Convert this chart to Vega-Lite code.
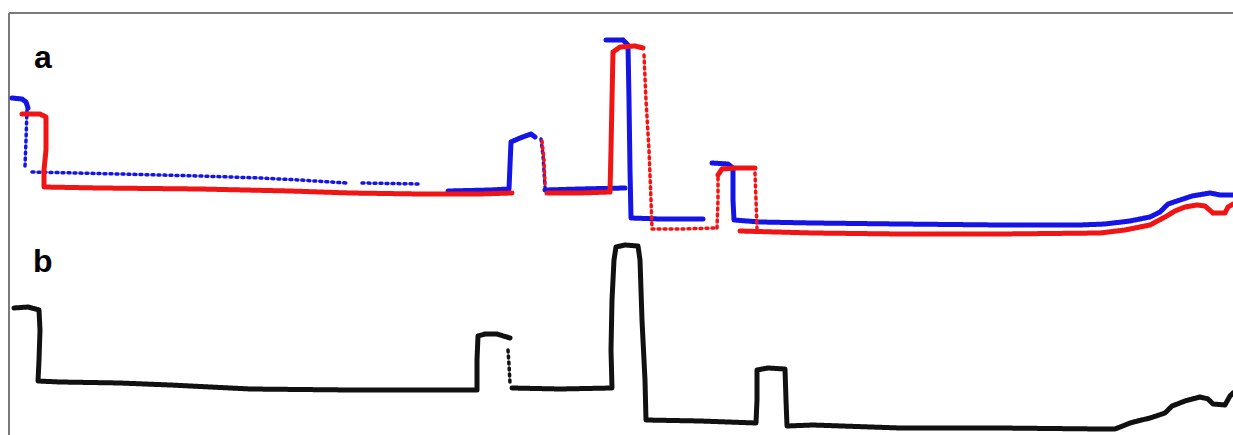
{
  "$schema": "https://vega.github.io/schema/vega-lite/v6.json",
  "width": 1233,
  "height": 435,
  "padding": 0,
  "autosize": {"type": "none"},
  "background": "white",
  "config": {"view": {"stroke": null}},
  "datasets": {
    "traces": [
      {"s":"blue","g":"B1","d":"solid","i":1,"x":12,"y":98},
      {"s":"blue","g":"B1","d":"solid","i":2,"x":22,"y":99},
      {"s":"blue","g":"B1","d":"solid","i":3,"x":26,"y":102},
      {"s":"blue","g":"B1","d":"solid","i":4,"x":28,"y":108},
      {"s":"blue","g":"B2","d":"dot","i":1,"x":27,"y":110},
      {"s":"blue","g":"B2","d":"dot","i":2,"x":26,"y":140},
      {"s":"blue","g":"B2","d":"dot","i":3,"x":25,"y":166},
      {"s":"blue","g":"B3","d":"dot","i":1,"x":32,"y":172},
      {"s":"blue","g":"B3","d":"dot","i":2,"x":120,"y":174},
      {"s":"blue","g":"B3","d":"dot","i":3,"x":200,"y":176},
      {"s":"blue","g":"B3","d":"dot","i":4,"x":260,"y":178},
      {"s":"blue","g":"B3","d":"dot","i":5,"x":300,"y":180},
      {"s":"blue","g":"B3","d":"dot","i":6,"x":347,"y":183},
      {"s":"blue","g":"B4","d":"dot","i":1,"x":362,"y":183},
      {"s":"blue","g":"B4","d":"dot","i":2,"x":420,"y":184},
      {"s":"blue","g":"B5","d":"solid","i":1,"x":448,"y":191},
      {"s":"blue","g":"B5","d":"solid","i":2,"x":490,"y":190},
      {"s":"blue","g":"B5","d":"solid","i":3,"x":509,"y":189},
      {"s":"blue","g":"B5","d":"solid","i":4,"x":510,"y":165},
      {"s":"blue","g":"B5","d":"solid","i":5,"x":511,"y":142},
      {"s":"blue","g":"B5","d":"solid","i":6,"x":520,"y":138},
      {"s":"blue","g":"B5","d":"solid","i":7,"x":531,"y":134},
      {"s":"blue","g":"B5","d":"solid","i":8,"x":535,"y":137},
      {"s":"blue","g":"B6","d":"dot","i":1,"x":541,"y":139},
      {"s":"blue","g":"B6","d":"dot","i":2,"x":543,"y":155},
      {"s":"blue","g":"B6","d":"dot","i":3,"x":545,"y":187},
      {"s":"blue","g":"B7","d":"solid","i":1,"x":545,"y":190},
      {"s":"blue","g":"B7","d":"solid","i":2,"x":580,"y":189},
      {"s":"blue","g":"B7","d":"solid","i":3,"x":625,"y":188},
      {"s":"blue","g":"B8","d":"solid","i":1,"x":606,"y":40},
      {"s":"blue","g":"B8","d":"solid","i":2,"x":623,"y":40},
      {"s":"blue","g":"B8","d":"solid","i":3,"x":628,"y":45},
      {"s":"blue","g":"B8","d":"solid","i":4,"x":629,"y":100},
      {"s":"blue","g":"B8","d":"solid","i":5,"x":630,"y":170},
      {"s":"blue","g":"B8","d":"solid","i":6,"x":631,"y":218},
      {"s":"blue","g":"B8","d":"solid","i":7,"x":660,"y":219},
      {"s":"blue","g":"B8","d":"solid","i":8,"x":703,"y":219},
      {"s":"blue","g":"B9","d":"solid","i":1,"x":712,"y":163},
      {"s":"blue","g":"B9","d":"solid","i":2,"x":728,"y":164},
      {"s":"blue","g":"B9","d":"solid","i":3,"x":733,"y":168},
      {"s":"blue","g":"B9","d":"solid","i":4,"x":733,"y":200},
      {"s":"blue","g":"B9","d":"solid","i":5,"x":734,"y":220},
      {"s":"blue","g":"B9","d":"solid","i":6,"x":760,"y":222},
      {"s":"blue","g":"B9","d":"solid","i":7,"x":813,"y":223},
      {"s":"blue","g":"B9","d":"solid","i":8,"x":900,"y":224},
      {"s":"blue","g":"B9","d":"solid","i":9,"x":1000,"y":225},
      {"s":"blue","g":"B9","d":"solid","i":10,"x":1080,"y":225},
      {"s":"blue","g":"B9","d":"solid","i":11,"x":1105,"y":224},
      {"s":"blue","g":"B9","d":"solid","i":12,"x":1130,"y":221},
      {"s":"blue","g":"B9","d":"solid","i":13,"x":1150,"y":217},
      {"s":"blue","g":"B9","d":"solid","i":14,"x":1160,"y":212},
      {"s":"blue","g":"B9","d":"solid","i":15,"x":1168,"y":204},
      {"s":"blue","g":"B9","d":"solid","i":16,"x":1180,"y":200},
      {"s":"blue","g":"B9","d":"solid","i":17,"x":1192,"y":196},
      {"s":"blue","g":"B9","d":"solid","i":18,"x":1210,"y":193},
      {"s":"blue","g":"B9","d":"solid","i":19,"x":1220,"y":195},
      {"s":"blue","g":"B9","d":"solid","i":20,"x":1233,"y":195},
      {"s":"red","g":"R1","d":"solid","i":1,"x":22,"y":114},
      {"s":"red","g":"R1","d":"solid","i":2,"x":40,"y":114},
      {"s":"red","g":"R1","d":"solid","i":3,"x":46,"y":117},
      {"s":"red","g":"R1","d":"solid","i":4,"x":46,"y":150},
      {"s":"red","g":"R1","d":"solid","i":5,"x":44,"y":170},
      {"s":"red","g":"R1","d":"solid","i":6,"x":44,"y":187},
      {"s":"red","g":"R1","d":"solid","i":7,"x":100,"y":188},
      {"s":"red","g":"R1","d":"solid","i":8,"x":200,"y":189},
      {"s":"red","g":"R1","d":"solid","i":9,"x":290,"y":191},
      {"s":"red","g":"R1","d":"solid","i":10,"x":350,"y":193},
      {"s":"red","g":"R1","d":"solid","i":11,"x":420,"y":194},
      {"s":"red","g":"R1","d":"solid","i":12,"x":480,"y":194},
      {"s":"red","g":"R1","d":"solid","i":13,"x":512,"y":193},
      {"s":"red","g":"R2","d":"dot","i":1,"x":542,"y":141},
      {"s":"red","g":"R2","d":"dot","i":2,"x":544,"y":160},
      {"s":"red","g":"R2","d":"dot","i":3,"x":545,"y":184},
      {"s":"red","g":"R3","d":"solid","i":1,"x":547,"y":193},
      {"s":"red","g":"R3","d":"solid","i":2,"x":580,"y":193},
      {"s":"red","g":"R3","d":"solid","i":3,"x":610,"y":192},
      {"s":"red","g":"R3","d":"solid","i":4,"x":611,"y":150},
      {"s":"red","g":"R3","d":"solid","i":5,"x":612,"y":100},
      {"s":"red","g":"R3","d":"solid","i":6,"x":613,"y":52},
      {"s":"red","g":"R3","d":"solid","i":7,"x":620,"y":47},
      {"s":"red","g":"R3","d":"solid","i":8,"x":635,"y":46},
      {"s":"red","g":"R3","d":"solid","i":9,"x":643,"y":48},
      {"s":"red","g":"R4","d":"dot","i":1,"x":644,"y":55},
      {"s":"red","g":"R4","d":"dot","i":2,"x":646,"y":100},
      {"s":"red","g":"R4","d":"dot","i":3,"x":649,"y":150},
      {"s":"red","g":"R4","d":"dot","i":4,"x":651,"y":200},
      {"s":"red","g":"R4","d":"dot","i":5,"x":652,"y":228},
      {"s":"red","g":"R5","d":"dot","i":1,"x":652,"y":229},
      {"s":"red","g":"R5","d":"dot","i":2,"x":680,"y":229},
      {"s":"red","g":"R5","d":"dot","i":3,"x":716,"y":228},
      {"s":"red","g":"R6","d":"dot","i":1,"x":717,"y":228},
      {"s":"red","g":"R6","d":"dot","i":2,"x":718,"y":200},
      {"s":"red","g":"R6","d":"dot","i":3,"x":718,"y":178},
      {"s":"red","g":"R7","d":"solid","i":1,"x":718,"y":175},
      {"s":"red","g":"R7","d":"solid","i":2,"x":722,"y":169},
      {"s":"red","g":"R7","d":"solid","i":3,"x":735,"y":168},
      {"s":"red","g":"R7","d":"solid","i":4,"x":755,"y":168},
      {"s":"red","g":"R8","d":"dot","i":1,"x":755,"y":173},
      {"s":"red","g":"R8","d":"dot","i":2,"x":756,"y":200},
      {"s":"red","g":"R8","d":"dot","i":3,"x":757,"y":228},
      {"s":"red","g":"R9","d":"solid","i":1,"x":740,"y":231},
      {"s":"red","g":"R9","d":"solid","i":2,"x":813,"y":233},
      {"s":"red","g":"R9","d":"solid","i":3,"x":900,"y":234},
      {"s":"red","g":"R9","d":"solid","i":4,"x":1000,"y":234},
      {"s":"red","g":"R9","d":"solid","i":5,"x":1100,"y":233},
      {"s":"red","g":"R9","d":"solid","i":6,"x":1125,"y":230},
      {"s":"red","g":"R9","d":"solid","i":7,"x":1150,"y":225},
      {"s":"red","g":"R9","d":"solid","i":8,"x":1165,"y":217},
      {"s":"red","g":"R9","d":"solid","i":9,"x":1175,"y":211},
      {"s":"red","g":"R9","d":"solid","i":10,"x":1185,"y":207},
      {"s":"red","g":"R9","d":"solid","i":11,"x":1197,"y":205},
      {"s":"red","g":"R9","d":"solid","i":12,"x":1205,"y":206},
      {"s":"red","g":"R9","d":"solid","i":13,"x":1213,"y":213},
      {"s":"red","g":"R9","d":"solid","i":14,"x":1225,"y":213},
      {"s":"red","g":"R9","d":"solid","i":15,"x":1228,"y":207},
      {"s":"red","g":"R9","d":"solid","i":16,"x":1233,"y":204},
      {"s":"black","g":"K1","d":"solid","i":1,"x":14,"y":308},
      {"s":"black","g":"K1","d":"solid","i":2,"x":28,"y":307},
      {"s":"black","g":"K1","d":"solid","i":3,"x":39,"y":310},
      {"s":"black","g":"K1","d":"solid","i":4,"x":40,"y":330},
      {"s":"black","g":"K1","d":"solid","i":5,"x":39,"y":360},
      {"s":"black","g":"K1","d":"solid","i":6,"x":38,"y":381},
      {"s":"black","g":"K1","d":"solid","i":7,"x":60,"y":382},
      {"s":"black","g":"K1","d":"solid","i":8,"x":120,"y":383},
      {"s":"black","g":"K1","d":"solid","i":9,"x":170,"y":385},
      {"s":"black","g":"K1","d":"solid","i":10,"x":250,"y":389},
      {"s":"black","g":"K1","d":"solid","i":11,"x":350,"y":390},
      {"s":"black","g":"K1","d":"solid","i":12,"x":420,"y":390},
      {"s":"black","g":"K1","d":"solid","i":13,"x":477,"y":390},
      {"s":"black","g":"K1","d":"solid","i":14,"x":477,"y":360},
      {"s":"black","g":"K1","d":"solid","i":15,"x":478,"y":336},
      {"s":"black","g":"K1","d":"solid","i":16,"x":485,"y":334},
      {"s":"black","g":"K1","d":"solid","i":17,"x":497,"y":334},
      {"s":"black","g":"K1","d":"solid","i":18,"x":510,"y":338},
      {"s":"black","g":"K2","d":"dot","i":1,"x":508,"y":350},
      {"s":"black","g":"K2","d":"dot","i":2,"x":509,"y":365},
      {"s":"black","g":"K2","d":"dot","i":3,"x":510,"y":383},
      {"s":"black","g":"K3","d":"solid","i":1,"x":512,"y":388},
      {"s":"black","g":"K3","d":"solid","i":2,"x":560,"y":389},
      {"s":"black","g":"K3","d":"solid","i":3,"x":612,"y":388},
      {"s":"black","g":"K3","d":"solid","i":4,"x":611,"y":350},
      {"s":"black","g":"K3","d":"solid","i":5,"x":612,"y":300},
      {"s":"black","g":"K3","d":"solid","i":6,"x":614,"y":260},
      {"s":"black","g":"K3","d":"solid","i":7,"x":616,"y":247},
      {"s":"black","g":"K3","d":"solid","i":8,"x":625,"y":245},
      {"s":"black","g":"K3","d":"solid","i":9,"x":638,"y":246},
      {"s":"black","g":"K3","d":"solid","i":10,"x":640,"y":260},
      {"s":"black","g":"K3","d":"solid","i":11,"x":642,"y":320},
      {"s":"black","g":"K3","d":"solid","i":12,"x":645,"y":380},
      {"s":"black","g":"K3","d":"solid","i":13,"x":646,"y":420},
      {"s":"black","g":"K3","d":"solid","i":14,"x":700,"y":421},
      {"s":"black","g":"K3","d":"solid","i":15,"x":756,"y":423},
      {"s":"black","g":"K3","d":"solid","i":16,"x":757,"y":400},
      {"s":"black","g":"K3","d":"solid","i":17,"x":757,"y":370},
      {"s":"black","g":"K3","d":"solid","i":18,"x":768,"y":368},
      {"s":"black","g":"K3","d":"solid","i":19,"x":785,"y":369},
      {"s":"black","g":"K3","d":"solid","i":20,"x":786,"y":400},
      {"s":"black","g":"K3","d":"solid","i":21,"x":787,"y":426},
      {"s":"black","g":"K3","d":"solid","i":22,"x":813,"y":425},
      {"s":"black","g":"K3","d":"solid","i":23,"x":900,"y":428},
      {"s":"black","g":"K3","d":"solid","i":24,"x":1000,"y":428},
      {"s":"black","g":"K3","d":"solid","i":25,"x":1100,"y":429},
      {"s":"black","g":"K3","d":"solid","i":26,"x":1115,"y":429},
      {"s":"black","g":"K3","d":"solid","i":27,"x":1130,"y":423},
      {"s":"black","g":"K3","d":"solid","i":28,"x":1150,"y":418},
      {"s":"black","g":"K3","d":"solid","i":29,"x":1165,"y":413},
      {"s":"black","g":"K3","d":"solid","i":30,"x":1172,"y":406},
      {"s":"black","g":"K3","d":"solid","i":31,"x":1185,"y":401},
      {"s":"black","g":"K3","d":"solid","i":32,"x":1200,"y":397},
      {"s":"black","g":"K3","d":"solid","i":33,"x":1208,"y":399},
      {"s":"black","g":"K3","d":"solid","i":34,"x":1213,"y":404},
      {"s":"black","g":"K3","d":"solid","i":35,"x":1225,"y":405},
      {"s":"black","g":"K3","d":"solid","i":36,"x":1230,"y":396},
      {"s":"black","g":"K3","d":"solid","i":37,"x":1233,"y":393}
    ],
    "frame": [
      {"x":9,"x2":1233,"y":13,"y2":13},
      {"x":9,"x2":9,"y":13,"y2":435}
    ],
    "labels": [
      {"t":"a","x":34,"y":68},
      {"t":"b","x":33,"y":272}
    ]
  },
  "layer": [
    {
      "data": {"name": "frame"},
      "mark": {"type": "rule", "color": "#7a7a7a", "strokeWidth": 2},
      "encoding": {
        "x": {"field": "x", "type": "quantitative", "scale": {"domain": [0, 1233], "nice": false, "zero": false}, "axis": null},
        "x2": {"field": "x2"},
        "y": {"field": "y", "type": "quantitative", "scale": {"domain": [0, 435], "nice": false, "zero": false, "reverse": true}, "axis": null},
        "y2": {"field": "y2"}
      }
    },
    {
      "data": {"name": "traces"},
      "mark": {"type": "line", "strokeCap": "round", "strokeJoin": "round"},
      "encoding": {
        "x": {"field": "x", "type": "quantitative", "axis": null},
        "y": {"field": "y", "type": "quantitative", "axis": null},
        "detail": {"field": "g", "type": "nominal"},
        "order": {"field": "i", "type": "quantitative"},
        "color": {"field": "s", "type": "nominal", "legend": null,
          "scale": {"domain": ["blue", "red", "black"], "range": ["#1414e6", "#f01414", "#111111"]}},
        "strokeDash": {"field": "d", "type": "nominal", "legend": null,
          "scale": {"domain": ["solid", "dot"], "range": [[1, 0], [2, 4]]}},
        "strokeWidth": {"field": "d", "type": "nominal", "legend": null,
          "scale": {"domain": ["solid", "dot"], "range": [5, 3.5]}}
      }
    },
    {
      "data": {"name": "labels"},
      "mark": {"type": "text", "font": "Liberation Sans", "fontWeight": "bold", "fontSize": 32, "align": "left", "baseline": "alphabetic", "color": "#000000"},
      "encoding": {
        "x": {"field": "x", "type": "quantitative", "axis": null},
        "y": {"field": "y", "type": "quantitative", "axis": null},
        "text": {"field": "t", "type": "nominal"}
      }
    }
  ]
}
